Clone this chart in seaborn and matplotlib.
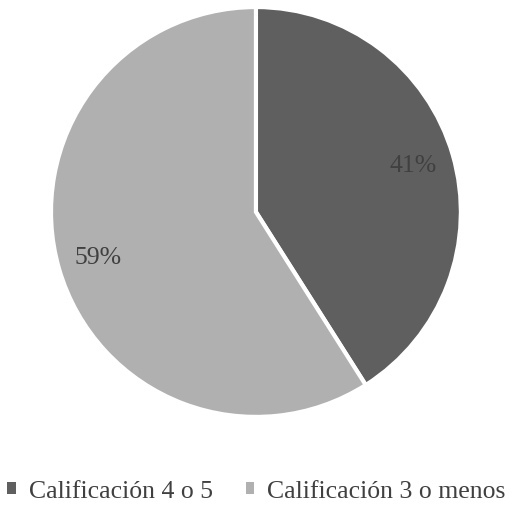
import matplotlib
matplotlib.use("Agg")
import matplotlib.pyplot as plt
from matplotlib.patches import Patch
import seaborn as sns

# Data
categories = ["Calificación 4 o 5", "Calificación 3 o menos"]
shares = [41, 59]
colors = ["#5f5f5f", "#b0b0b0"]

sns.set_style("white")
plt.rcParams["font.family"] = ["Liberation Serif", "DejaVu Serif"]

fig = plt.figure(figsize=(5.13, 5.23), dpi=100)
ax = fig.add_axes([0.0994, 0.2027, 0.799, 0.784])

wedges, texts, autotexts = ax.pie(
    shares,
    colors=colors,
    startangle=90,
    counterclock=False,
    autopct=lambda p: f"{p:.0f}%",
    pctdistance=0.8,
    wedgeprops={"edgecolor": "white", "linewidth": 3},
    textprops={"fontsize": 18.5, "color": "#404040"},
)
ax.set_xlim(-1, 1)
ax.set_ylim(-1, 1)
ax.set_aspect("equal")

# legend squares without the white wedge border
handles = [Patch(facecolor=c, edgecolor="none") for c in colors]
fig.legend(
    handles, categories,
    loc="center", bbox_to_anchor=(0.5, 0.06),
    ncol=2, frameon=False, fontsize=18.5,
    handlelength=0.33, handleheight=0.33, handletextpad=0.5,
    columnspacing=1.3, labelcolor="#404040",
)

fig.savefig("out.png", dpi=100)
